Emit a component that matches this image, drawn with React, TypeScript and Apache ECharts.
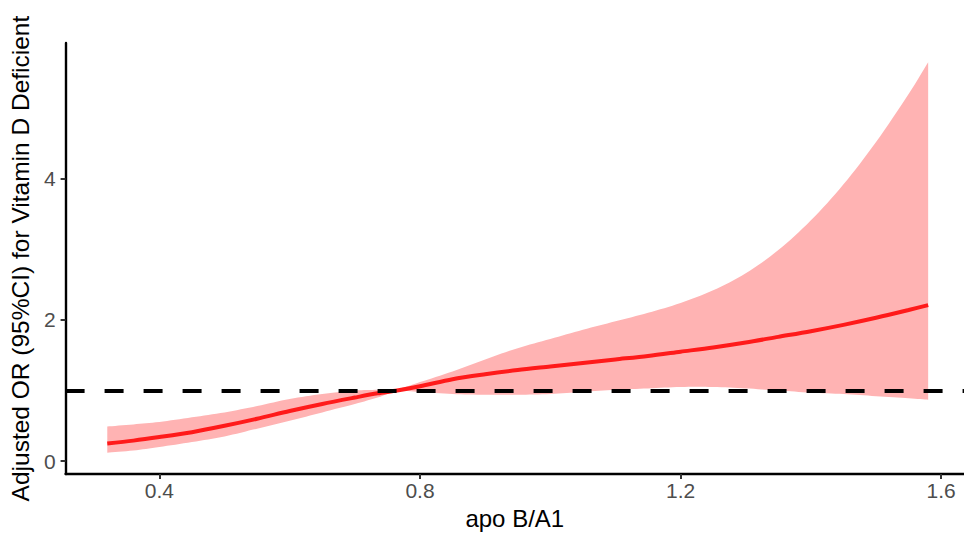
import React, { useEffect, useRef } from "react";
import * as echarts from "echarts";

const apoBA1 = [0.32, 0.36, 0.4, 0.45, 0.5, 0.55, 0.6, 0.65, 0.7, 0.735, 0.765, 0.8, 0.85, 0.9, 0.95, 1.0, 1.05, 1.1, 1.15, 1.2, 1.25, 1.3, 1.35, 1.4, 1.45, 1.5, 1.55, 1.58];
const orFit = [0.25, 0.29, 0.34, 0.41, 0.5, 0.6, 0.71, 0.81, 0.9, 0.96, 1.0, 1.06, 1.16, 1.23, 1.29, 1.34, 1.39, 1.44, 1.49, 1.55, 1.61, 1.68, 1.76, 1.84, 1.93, 2.03, 2.14, 2.21];
const orLower = [0.12, 0.15, 0.2, 0.27, 0.35, 0.46, 0.57, 0.69, 0.81, 0.9, 0.99, 0.98, 0.95, 0.94, 0.94, 0.95, 0.98, 1.01, 1.03, 1.05, 1.05, 1.03, 1.0, 0.97, 0.95, 0.92, 0.89, 0.87];
const orUpper = [0.49, 0.52, 0.555, 0.62, 0.69, 0.78, 0.88, 0.95, 1.0, 1.01, 1.02, 1.12, 1.27, 1.44, 1.6, 1.73, 1.86, 1.98, 2.1, 2.24, 2.42, 2.66, 2.99, 3.41, 3.92, 4.52, 5.2, 5.65];
const xTicks = [0.4, 0.8, 1.2, 1.6];
const yTicks = [0, 2, 4];
const refLine = 1;

// Catmull-Rom smoothing of a pixel polyline (drawing only)
function smoothPath(p: number[][], steps = 8): number[][] {
  const out: number[][] = [];
  for (let i = 0; i < p.length - 1; i++) {
    const p0 = p[Math.max(0, i - 1)], p1 = p[i], p2 = p[i + 1], p3 = p[Math.min(p.length - 1, i + 2)];
    for (let s = 0; s < steps; s++) {
      const t = s / steps, t2 = t * t, t3 = t2 * t;
      const f = (a: number, b: number, c: number, d: number) =>
        0.5 * (2 * b + (-a + c) * t + (2 * a - 5 * b + 4 * c - d) * t2 + (-a + 3 * b - 3 * c + d) * t3);
      out.push([f(p0[0], p1[0], p2[0], p3[0]), f(p0[1], p1[1], p2[1], p3[1])]);
    }
  }
  out.push(p[p.length - 1]);
  return out;
}

export default function App() {
  const ref = useRef<HTMLDivElement>(null);
  useEffect(() => {
    const chart = echarts.init(ref.current!, null, { renderer: "svg" });
    const font = "Liberation Sans, Arial, Helvetica, sans-serif";
    const axisLine = { show: true, onZero: false, lineStyle: { color: "#000", width: 2.4 } };
    const tickStyle = { color: "#333", width: 2 };
    const bandData = apoBA1.map((x, i) => [x, orLower[i], orUpper[i]]);
    const fitData = apoBA1.map((x, i) => [x, orFit[i]]);
    chart.setOption({
      animation: false,
      grid: { left: 63, right: 0, top: 43, bottom: 60, containLabel: false },
      xAxis: {
        type: "value",
        min: 0.256,
        max: 1.635,
        name: "apo B/A1",
        nameLocation: "middle",
        nameGap: 30,
        nameTextStyle: { color: "#000", fontSize: 24, fontFamily: font },
        axisLine,
        axisTick: { show: true, customValues: xTicks, length: 5, lineStyle: tickStyle },
        axisLabel: { customValues: xTicks, color: "#4d4d4d", fontSize: 21, fontFamily: font, margin: 6, formatter: (v: number) => v.toFixed(1) },
        splitLine: { show: false },
      },
      yAxis: {
        type: "value",
        min: -0.184,
        max: 5.922,
        name: "Adjusted OR (95%CI) for Vitamin D Deficient",
        nameLocation: "middle",
        nameGap: 23,
        nameTextStyle: { color: "#000", fontSize: 24.5, fontFamily: font },
        axisLine,
        axisTick: { show: true, customValues: yTicks, length: 5, lineStyle: tickStyle },
        axisLabel: { customValues: yTicks, color: "#4d4d4d", fontSize: 21, fontFamily: font, margin: 10 },
        splitLine: { show: false },
      },
      series: [
        {
          type: "custom",
          data: bandData,
          encode: { x: 0, y: [1, 2] },
          silent: true,
          z: 1,
          renderItem: (params: any, api: any) => {
            if (params.dataIndex !== 0) return null;
            const up = bandData.map((d) => api.coord([d[0], d[2]]));
            const lo = bandData.map((d) => api.coord([d[0], d[1]]));
            const pts = smoothPath(up).concat(smoothPath(lo).reverse());
            return { type: "polygon", shape: { points: pts }, style: { fill: "rgb(255,179,179)", stroke: "none" } };
          },
        },
        {
          type: "line",
          data: fitData,
          symbol: "none",
          smooth: 0.3,
          lineStyle: { color: "#ff1a1a", width: 4 },
          z: 2,
        },
        {
          type: "line",
          data: [],
          z: 3,
          markLine: {
            silent: true,
            symbol: "none",
            label: { show: false },
            lineStyle: { color: "#000", width: 4, type: [19, 20] },
            data: [{ yAxis: refLine }],
          },
        },
      ],
    });
    return () => chart.dispose();
  }, []);
  return <div ref={ref} style={{ position: "fixed", left: 0, top: 0, width: 964, height: 535, background: "#fff" }} />;
}
